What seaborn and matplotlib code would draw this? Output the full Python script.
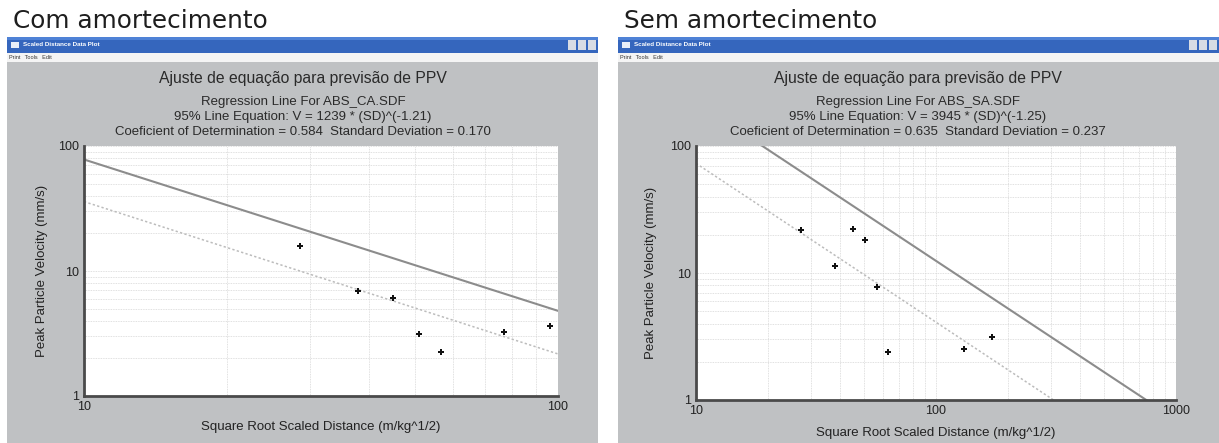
import numpy as np
import pandas as pd
import matplotlib
matplotlib.use("Agg")
import matplotlib.pyplot as plt
import seaborn as sns
from matplotlib.patches import Rectangle
from matplotlib.ticker import LogLocator, FuncFormatter, NullFormatter

# Com amortecimento (ABS_CA.SDF) - scaled distance vs PPV
ca_sd = [28.6, 37.9, 44.8, 51.0, 56.7, 77.0, 96.4]
ca_ppv = [15.9, 6.96, 6.04, 3.13, 2.25, 3.27, 3.63]
ca_fit_sd = [10, 100]
ca_fit95 = [78.0, 4.8]   # 95% line
ca_fit50 = [35.9, 2.17]  # regression line

# Sem amortecimento (ABS_SA.SDF)
sa_sd = [27.3, 37.8, 45.1, 50.8, 56.6, 63.1, 130.6, 171.0]
sa_ppv = [21.8, 11.3, 22.4, 18.3, 7.71, 2.40, 2.51, 3.14]
sa_fit_sd = [10, 1000]
sa_fit95 = [221.8, 0.70]
sa_fit50 = [73.0, 0.23]

headings = ["Com amortecimento", "Sem amortecimento"]
files = ["ABS_CA.SDF", "ABS_SA.SDF"]
equations = ["V = 1239 * (SD)^(-1.21)", "V = 3945 * (SD)^(-1.25)"]
stats = [("0.584", "0.170"), ("0.635", "0.237")]
xmax = [100, 1000]

W, H = 1219, 443
sns.set_style("white")
plt.rcParams["font.family"] = ["Liberation Sans", "DejaVu Sans"]

fig = plt.figure(figsize=(W / 100, H / 100), dpi=100)
fig.patch.set_facecolor("white")


def rect(x0, y0, x1, y1, color):
    # pixel box -> figure fraction, kept behind the axes
    fig.add_artist(Rectangle((x0 / W, 1 - y1 / H), (x1 - x0) / W, (y1 - y0) / H,
                             transform=fig.transFigure, facecolor=color,
                             edgecolor="none", zorder=-5))


def window(x0, x1, heading):
    fig.text((x0 + 6) / W, 1 - 21 / H, heading, fontsize=17.8, va="center",
             family="DejaVu Sans", color="#1e1e1e")
    rect(x0, 37, x1, 53, "#3566bd")
    rect(x0, 37, x1, 40, "#4f82d6")
    rect(x0 + 4, 42, x0 + 12, 48, "#e8eef8")
    fig.text((x0 + 16) / W, 1 - 45 / H, "Scaled Distance Data Plot", fontsize=4.5,
             color="white", weight="bold", va="center")
    for i in range(3):
        rect(x1 - 30 + i * 10, 40, x1 - 22 + i * 10, 50, "#d8dce4")
    rect(x0, 53, x1, 62, "#f4f4f4")
    fig.text((x0 + 2) / W, 1 - 57.5 / H, "Print   Tools   Edit", fontsize=4,
             color="#333333", va="center")
    rect(x0, 62, x1, H, "#bfc1c3")


def header(xc, i):
    fig.text(xc / W, 1 - 78 / H, "Ajuste de equação para previsão de PPV",
             fontsize=11.3, ha="center", va="center", color="#2a2a2a")
    fig.text(xc / W, 1 - 102 / H, "Regression Line For " + files[i],
             fontsize=9.5, ha="center", va="center", color="#2a2a2a")
    fig.text(xc / W, 1 - 117 / H, "95% Line Equation: " + equations[i],
             fontsize=9.5, ha="center", va="center", color="#2a2a2a")
    fig.text(xc / W, 1 - 132 / H,
             "Coeficient of Determination = %s  Standard Deviation = %s" % stats[i],
             fontsize=9.5, ha="center", va="center", color="#2a2a2a")


def draw_panel(ax, sd, ppv, fit_sd, fit95, fit50, xm):
    ax.set_xscale("log")
    ax.set_yscale("log")
    fit = pd.DataFrame({"sd": fit_sd, "v95": fit95, "v50": fit50})
    pts = pd.DataFrame({"sd": sd, "ppv": ppv})
    sns.lineplot(data=fit, x="sd", y="v95", ax=ax, color="#8c8c8c", lw=1.5)
    sns.lineplot(data=fit, x="sd", y="v50", ax=ax, color="#bcbcbc", lw=1.1,
                 linestyle=(0, (1.5, 1.5)))
    sns.scatterplot(data=pts, x="sd", y="ppv", ax=ax, marker="P", s=24,
                    color="#111111", linewidth=0, zorder=5)
    ax.set_xlim(10, xm)
    ax.set_ylim(1, 100)
    ax.set_facecolor("white")
    for a in (ax.xaxis, ax.yaxis):
        a.set_major_locator(LogLocator(base=10))
        a.set_minor_locator(LogLocator(base=10, subs=np.arange(2, 10)))
        a.set_major_formatter(FuncFormatter(lambda v, _: "%g" % v))
        a.set_minor_formatter(NullFormatter())
    ax.grid(True, which="both", color="#d6d6d6", lw=0.6, ls=(0, (1, 1)))
    for s in ("top", "right"):
        ax.spines[s].set_visible(False)
    for s in ("left", "bottom"):
        ax.spines[s].set_color("#4a4a4a")
        ax.spines[s].set_linewidth(2)
    ax.tick_params(which="both", direction="out", color="#4a4a4a", width=1,
                   labelsize=9, labelcolor="#222222", pad=0.5)
    ax.tick_params(which="major", length=3)
    ax.tick_params(which="minor", length=2)
    ax.set_xlabel("Square Root Scaled Distance (m/kg^1/2)", fontsize=9.5, color="#222222")
    ax.set_ylabel("Peak Particle Velocity (mm/s)", fontsize=9.5, color="#222222")


window(7, 598, headings[0])
window(618, 1219, headings[1])
header(303, 0)
header(918, 1)

ax1 = fig.add_axes([84 / W, 1 - 396 / H, (558 - 84) / W, (396 - 146) / H])
draw_panel(ax1, ca_sd, ca_ppv, ca_fit_sd, ca_fit95, ca_fit50, xmax[0])
ax1.yaxis.set_label_coords(-0.076, 0.5)
ax1.xaxis.set_label_coords(0.5, -0.10)

ax2 = fig.add_axes([696 / W, 1 - 400 / H, (1176 - 696) / W, (400 - 146) / H])
draw_panel(ax2, sa_sd, sa_ppv, sa_fit_sd, sa_fit95, sa_fit50, xmax[1])
ax2.yaxis.set_label_coords(-0.082, 0.5)
ax2.xaxis.set_label_coords(0.5, -0.105)

fig.savefig("out.png", dpi=100)
